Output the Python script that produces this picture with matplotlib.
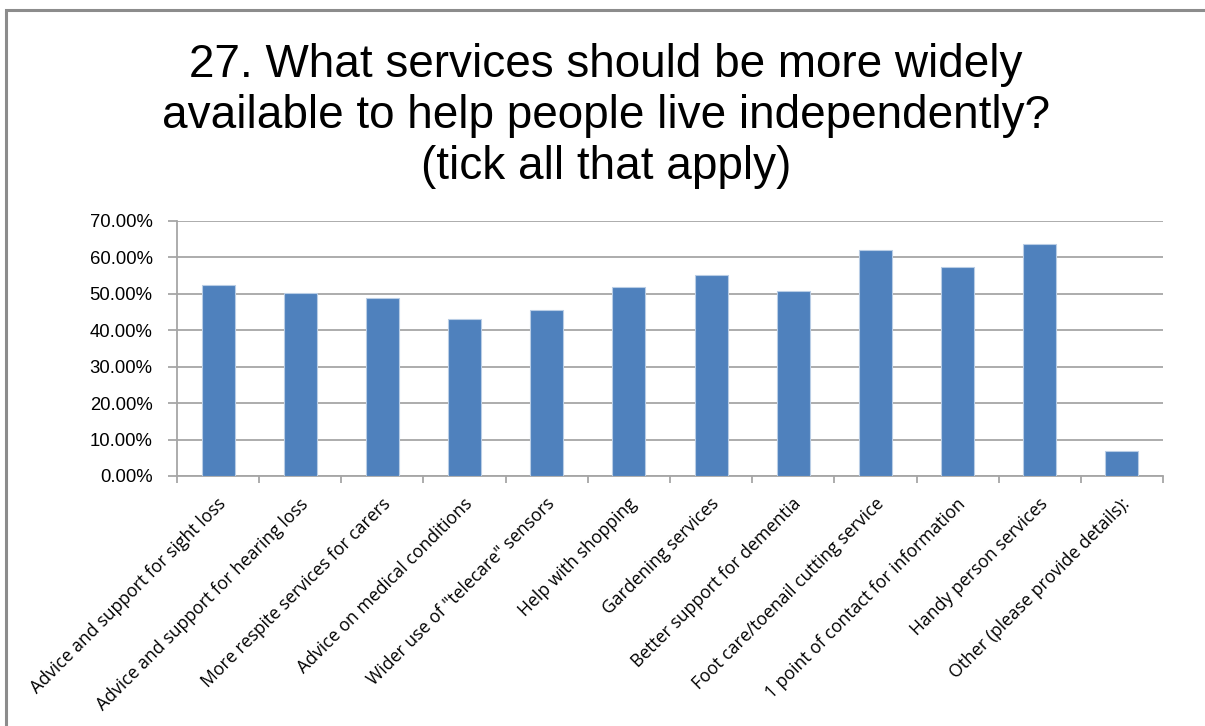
import matplotlib
matplotlib.use("Agg")
import matplotlib.pyplot as plt
from matplotlib.patches import Rectangle
from matplotlib.ticker import FuncFormatter, MultipleLocator
import matplotlib.transforms as mtransforms

categories = [
    "Advice and support for sight loss",
    "Advice and support for hearing loss",
    "More respite services for carers",
    "Advice on medical conditions",
    "Wider use of \"telecare\" sensors",
    "Help with shopping",
    "Gardening services",
    "Better support for dementia",
    "Foot care/toenail cutting service",
    "1 point of contact for information",
    "Handy person services",
    "Other (please provide details):",
]
values = [52.5, 50.1, 48.8, 43.1, 45.5, 51.9, 55.2, 50.9, 62.0, 57.5, 63.7, 6.9]
title = ("27. What services should be more widely\n"
         "available to help people live independently?\n"
         "(tick all that apply)")

W, H = 1205, 726
fig = plt.figure(figsize=(W / 100, H / 100), dpi=100)
fig.patch.set_facecolor("white")

# outer chart border (only left/top visible in reference)
fig.patches.append(Rectangle((6 / W, -0.1), 1.2, 1 - 10 / H + 0.1,
                             transform=fig.transFigure, fill=False,
                             edgecolor="#8c8c8c", linewidth=2.2))

ax = fig.add_axes([177 / W, 1 - 476 / H, (1163 - 177) / W, (476 - 221) / H])
x = list(range(len(categories)))
ax.bar(x, values, width=0.40, color="#4F81BD", edgecolor="#b9cde5",
       linewidth=0.8, zorder=3)

ax.set_xlim(-0.5, len(categories) - 0.5)
ax.set_ylim(0, 70)
ax.yaxis.set_major_locator(MultipleLocator(10))
ax.yaxis.set_major_formatter(FuncFormatter(lambda v, p: f"{v:.2f}%"))
ax.grid(axis="y", color="#a6a6a6", linewidth=1.3, zorder=0)
ax.set_axisbelow(True)

for s in ["top", "right"]:
    ax.spines[s].set_visible(False)
for s in ["left", "bottom"]:
    ax.spines[s].set_color("#a6a6a6")
    ax.spines[s].set_linewidth(1.3)

ax.tick_params(axis="y", length=6.5, width=1.3, color="#a6a6a6",
               labelsize=13.3, pad=11, labelcolor="black")
for lab in ax.get_yticklabels():
    lab.set_fontfamily("Liberation Sans")

# x ticks between categories
ax.set_xticks([i - 0.5 for i in range(len(categories) + 1)], minor=False)
ax.set_xticklabels([])
ax.tick_params(axis="x", length=5, width=1.3, color="#a6a6a6")

offset = mtransforms.ScaledTranslation(-1 / 100, -19 / 100, fig.dpi_scale_trans)
for i, c in enumerate(categories):
    t = ax.text(i, 0, c, rotation=45, ha="right", va="top",
                rotation_mode="anchor", fontsize=12.7, family="Open Sans")
    t.set_transform(ax.get_xaxis_transform() + offset)

fig.text(0.503, 1 - 43 / H, title, ha="center", va="top",
         fontsize=33, family="Liberation Sans", linespacing=1.2)

fig.savefig("out.png", dpi=100, facecolor="white")
